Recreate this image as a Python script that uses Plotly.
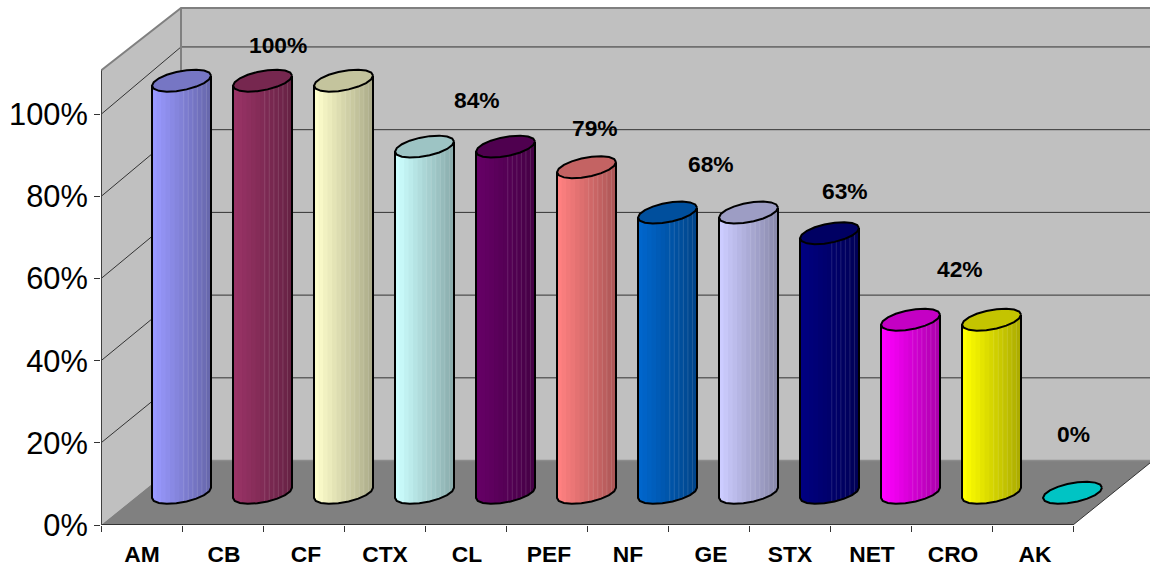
import math
import plotly.graph_objects as go

# Chart data
CATEGORIES = ["AM", "CB", "CF", "CTX", "CL", "PEF", "NF", "GE", "STX", "NET", "CRO", "AK"]
VALUES = [100, 100, 100, 84, 84, 79, 68, 68, 63, 42, 42, 0]
COLORS = ["#9999FF", "#993366", "#FFFFCC", "#CCFFFF", "#660066", "#FF8080",
          "#0066CC", "#CCCCFF", "#000080", "#FF00FF", "#FFFF00", "#00FFFF"]
Y_TICKS = [0, 20, 40, 60, 80, 100]

# Data labels: category index and pixel offset from the front of that column
LABEL_INDEX = [1, 4, 5, 7, 8, 10, 11]
LABEL_SHIFT = [(55.5, 69), (11.5, 80), (48.5, 72.5), (2.5, 82), (55.5, 75.4), (8.5, 84), (40.5, 91)]
TICK_NUDGE = [0.5, 1.5, 2.5, 0.5, 1.5, 2.5, 0.5, 2.5, 0.5, 1.5, 1.5, 2.5]

# Scale and oblique projection
WIDTH, HEIGHT = 1150, 569
LEFT, BOTTOM = 101, 43.5
PX_PER_CAT = 81.0
PX_PER_VAL = 4.11
DEPTH_X = 80 / PX_PER_CAT
DEPTH_Y = 64.5 / PX_PER_VAL
DEPTH_STRETCH = 0.0073
WALL_TOP_FRONT, WALL_TOP_BACK = 110.7, 109.4
FIRST, LAST = -0.5, len(CATEGORIES) - 0.5

# Cylinder cross-section
RADIUS = 29.5 / PX_PER_CAT
CAP_Y = 11 / PX_PER_VAL
TILT = math.atan2(CAP_Y / DEPTH_Y * DEPTH_X, math.sqrt(RADIUS**2 - (CAP_Y / DEPTH_Y * DEPTH_X)**2))
STRIPS = 13


def project(x, value, depth=0.0):
    return x + depth * DEPTH_X, value * (1 + DEPTH_STRETCH * depth) + depth * DEPTH_Y


def shade(color, factor):
    r, g, b = (int(color[k:k + 2], 16) for k in (1, 3, 5))
    return f"rgb({r * factor:.0f},{g * factor:.0f},{b * factor:.0f})"


def ring(i, value, u):
    """Point on the rim of column i at height `value`, for rim angle u."""
    cx, cy = project(i, value, 0.5)
    return cx + RADIUS * math.cos(u), cy + CAP_Y * math.sin(TILT + u)


fig = go.Figure()


def polygon(points, fill, line=None, width=0):
    xs, ys = zip(*points)
    fig.add_trace(go.Scatter(
        x=list(xs) + [xs[0]], y=list(ys) + [ys[0]], mode="lines", fill="toself", fillcolor=fill,
        line=dict(color=line or "rgba(0,0,0,0)", width=width),
        hoverinfo="skip", showlegend=False))


def path(points, color, width):
    xs, ys = zip(*points)
    fig.add_trace(go.Scatter(
        x=list(xs), y=list(ys), mode="lines", line=dict(color=color, width=width),
        hoverinfo="skip", showlegend=False, cliponaxis=False))


# Walls and floor
WALL, FLOOR, EDGE, GRID = "#C0C0C0", "#808080", "#808080", "#333333"
polygon([project(FIRST, 0, 1), project(LAST, 0, 1), project(LAST, WALL_TOP_BACK, 1), project(FIRST, WALL_TOP_BACK, 1)], WALL)
polygon([project(FIRST, 0), project(FIRST, 0, 1), project(FIRST, WALL_TOP_BACK, 1), project(FIRST, WALL_TOP_FRONT)], WALL)
polygon([project(FIRST, 0), project(LAST, 0), project(LAST, 0, 1), project(FIRST, 0, 1)], FLOOR)

for v in Y_TICKS[1:]:
    path([project(FIRST, v), project(FIRST, v, 1), project(LAST, v, 1)], GRID, 1)

path([project(FIRST, WALL_TOP_FRONT), project(FIRST, WALL_TOP_BACK, 1), project(LAST, WALL_TOP_BACK, 1)], EDGE, 2)
path([project(FIRST, 0, 1), project(FIRST, WALL_TOP_BACK, 1)], EDGE, 2)
path([project(FIRST, 0, 1), project(LAST, 0, 1)], "#8C8C8C", 1.5)
path([project(LAST, 0), project(LAST, 0, 1)], "#333333", 1)
path([project(FIRST, 0), project(LAST, 0)], "#333333", 2)
path([project(FIRST, 0), project(FIRST, WALL_TOP_FRONT)], "#404040", 2)

# Columns: each band runs through to the right edge, so the next one paints over it
for i, (value, color) in enumerate(zip(VALUES, COLORS)):
    if value > 0:
        for k in range(STRIPS):
            u0 = 2 * math.pi - math.acos(-1 + 2 * k / STRIPS)
            us = [u0 + (2 * math.pi - u0) * s / 12 for s in range(13)]
            lower = [ring(i, 0, u) for u in us]
            upper = [ring(i, value, u) for u in reversed(us)]
            polygon(lower + upper, shade(color, 1 - 0.32 * k / (STRIPS - 1)))
        # Faint joins between the darker bands
        for k in range(STRIPS - 6, STRIPS):
            u0 = 2 * math.pi - math.acos(-1 + 2 * k / STRIPS)
            path([ring(i, 0, u0), ring(i, value, u0)], "rgba(255,255,255,0.13)", 1)
    rim = [ring(i, value, 2 * math.pi * s / 18) for s in range(18)]
    polygon(rim, shade(color, 0.77), "#000000", 2)
    if value > 0:
        front = [ring(i, 0, math.pi + math.pi * s / 9) for s in range(10)]
        outline = [ring(i, value, math.pi)] + front + [ring(i, value, 2 * math.pi)]
        path(outline, "#000000", 2)

# Value labels
for idx, (dx, dy) in zip(LABEL_INDEX, LABEL_SHIFT):
    fig.add_annotation(
        x=idx, y=VALUES[idx], xref="x", yref="y", xshift=dx, yshift=dy,
        text=f"<b>{VALUES[idx]}%</b>", showarrow=False, xanchor="center", yanchor="middle",
        font=dict(family="Liberation Sans", size=22.8, color="#000000"))

fig.update_layout(
    width=WIDTH, height=HEIGHT, autosize=False,
    margin=dict(l=LEFT, r=0, t=0, b=BOTTOM, pad=0),
    paper_bgcolor="#FFFFFF", plot_bgcolor="#FFFFFF", showlegend=False,
    xaxis=dict(
        range=[FIRST, FIRST + (WIDTH - LEFT) / PX_PER_CAT], showgrid=False, zeroline=False, showline=False,
        automargin=False, tickmode="array",
        tickvals=[i + n / PX_PER_CAT for i, n in enumerate(TICK_NUDGE)],
        ticktext=[f"<b>{c}</b>" for c in CATEGORIES],
        ticks="outside", ticklen=9, tickcolor="rgba(0,0,0,0)",
        tickfont=dict(family="Liberation Sans", size=22.8, color="#000000"),
        minor=dict(tickmode="array", tickvals=[FIRST + k for k in range(len(CATEGORIES) + 1)],
                   ticks="outside", ticklen=6, tickwidth=1, tickcolor="#333333", showgrid=False),
    ),
    yaxis=dict(
        range=[0, (HEIGHT - BOTTOM) / PX_PER_VAL], showgrid=False, zeroline=False, showline=False,
        automargin=False, tickmode="array", tickvals=Y_TICKS, ticktext=[f"{v}%" for v in Y_TICKS],
        ticks="outside", ticklen=6, tickwidth=1, tickcolor="#333333",
        tickfont=dict(family="Liberation Sans", size=30.8, color="#000000"),
    ),
)

fig.write_html("out.html")
